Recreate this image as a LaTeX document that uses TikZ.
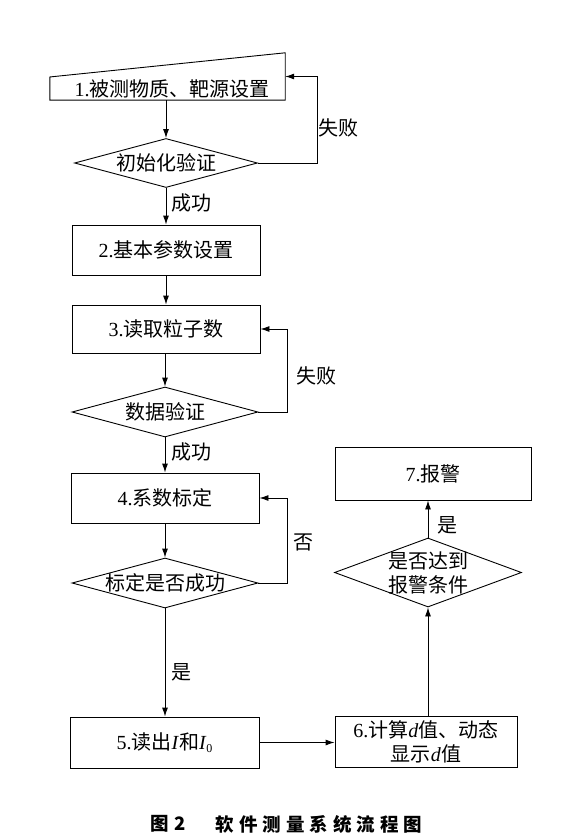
\documentclass[tikz,border=0pt]{standalone}
\usepackage{fontspec}
\setmainfont{Liberation Serif}
\newfontfamily\cjk{Noto Sans CJK SC}
\usetikzlibrary{shapes.geometric,arrows.meta,calc}
\newcommand{\capc}[1]{\makebox[23.5pt]{#1}}
\begin{document}
\begin{tikzpicture}[x=1pt,y=-1pt,
  every node/.style={font=\fontsize{20}{24}\selectfont},
  flow/.style={draw, line width=0.9pt, minimum width=188pt, minimum height=50pt, inner sep=0pt, align=center},
  dia/.style={draw, shape=diamond, line width=0.9pt, inner sep=0pt, minimum width=186pt, minimum height=50pt},
  txt/.style={inner sep=0pt, align=center},
  captxt/.style={inner sep=0pt, font=\fontsize{18.5}{22}\selectfont\cjk\bfseries},
  conn/.style={line width=0.9pt, -{Latex[length=9pt,width=6pt]}},
  lbl/.style={inner sep=0pt, anchor=west}]
\useasboundingbox (0,0) rectangle (570,840);
\fill[white] (0,0) rectangle (570,840);

% box 1 (manual input shape)
\node[minimum width=235pt, minimum height=47pt, inner sep=0pt] (b1) at (167.5,76.5) {};
\draw[line width=0.9pt] (b1.south west) -- (b1.south east) -- (b1.north east)
  -- ($(b1.south west)!0.49!(b1.north west)$) -- cycle;
\node[txt] (b1t) at (172,89) {1.{\cjk 被测物质、靶源设置}};

\node[dia, minimum width=183pt, minimum height=49pt] (d1) at (166,163) {};
\node[txt] (d1t) at (d1) {\cjk 初始化验证};

\node[flow] (b2) at (166,250) {2.{\cjk 基本参数设置}};
\node[flow, minimum height=48pt] (b3) at (166,329) {3.{\cjk 读取粒子数}};

\node[dia] (d2) at (165,412) {};
\node[txt] (d2t) at (d2) {\cjk 数据验证};

\node[flow] (b4) at (165,498) {4.{\cjk 系数标定}};

\node[dia] (d3) at (165,583) {};
\node[txt] (d3t) at (d3) {\cjk 标定是否成功};

\node[flow, minimum width=189pt, minimum height=51pt] (b5) at (164.5,742.5) {5.{\cjk 读出}\textit{I}{\cjk 和}\textit{I}\raisebox{-3pt}{\fontsize{12}{12}\selectfont 0}};
\node[flow, minimum width=182pt, minimum height=51pt] (b6) at (426,741.5) {6.{\cjk 计算}\textit{d}{\cjk 值、动态}\\{\cjk 显示}\textit{d}{\cjk 值}};

\node[dia, minimum width=187pt, minimum height=69pt] (d4) at (428,572.5) {};
\node[txt] (d4t) at (d4) {\cjk 是否达到\\\cjk 报警条件};

\node[flow, minimum width=196pt, minimum height=53pt] (b7) at (433,473.5) {7.{\cjk 报警}};

% connectors
\draw[conn] (b1.south -| d1.north) -- (d1.north);
\draw[conn] (d1.east) -- ++(59,0) |- (b1.east);
\draw[conn] (d1.south) -- (d1.south |- b2.north);
\draw[conn] (b2.south) -- (b2.south |- b3.north);
\draw[conn] (b3.south -| d2.north) -- (d2.north);
\draw[conn] (d2.east) -- ++(29,0) |- (b3.east);
\draw[conn] (d2.south) -- (b4.north);
\draw[conn] (b4.south) -- (d3.north);
\draw[conn] (d3.east) -- ++(29,0) |- (b4.east);
\draw[conn] (d3.south) -- (d3.south |- b5.north);
\draw[conn] (b5.east) -- (b5.east -| b6.west);
\draw[conn] (b6.north -| d4.south) -- (d4.south);
\draw[conn] (d4.north) -- (d4.north |- b7.south);

% labels
\node[txt] (l1) at (338,128) {\cjk 失败};
\node[lbl] (l2) at (171,203) {\cjk 成功};
\node[txt] (l3) at (316,376) {\cjk 失败};
\node[lbl] (l4) at (171,452) {\cjk 成功};
\node[txt] (l5) at (303,542) {\cjk 否};
\node[lbl] (l6) at (171,672) {\cjk 是};
\node[lbl] (l7) at (437,525) {\cjk 是};

% caption
\node[captxt, anchor=west] (cap1) at (150,824) {图\hspace{6pt}2};
\node[captxt] (cap2) at (319,824) {\capc{软}\capc{件}\capc{测}\capc{量}\capc{系}\capc{统}\capc{流}\capc{程}\capc{图}};
\end{tikzpicture}
\end{document}
